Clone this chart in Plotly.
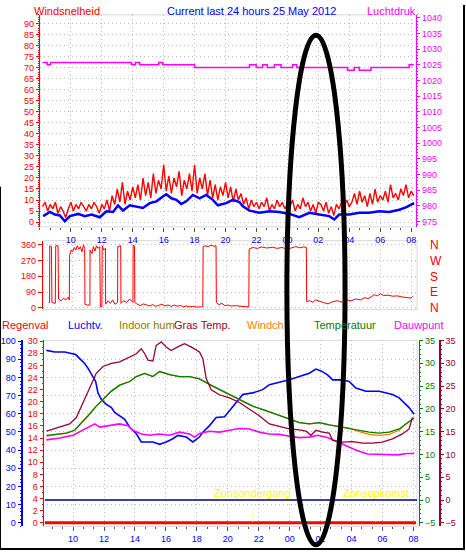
import plotly.graph_objects as go

W, H = 466, 555
FONT = "Liberation Sans, Arial, sans-serif"

# ---------------- data ----------------
# time axis in hours from midnight of the first day (24 = 00 next day)
hour_ticks = [10, 12, 14, 16, 18, 20, 22, 24, 26, 28, 30, 32]
hour_labels = ["10", "12", "14", "16", "18", "20", "22", "00", "02", "04", "06", "08"]

# wind gust (10-minute samples starting 08:10)
gust_start = 8 + 10 / 60
gust_step = 10 / 60
gust_vals = [
    7, 9, 5, 8, 6, 9, 4, 7, 5, 2, 6, 9,
    5, 8, 6, 9, 7, 5, 8, 6, 9, 7, 4, 8,
    6, 10, 5, 12, 8, 15, 9, 18, 8, 14, 10, 16,
    11, 17, 10, 20, 12, 18, 11, 22, 13, 19, 15, 26,
    14, 21, 13, 20, 16, 23, 12, 19, 15, 22, 14, 26,
    13, 20, 15, 22, 12, 19, 11, 17, 10, 16, 12, 18,
    11, 16, 9, 15, 10, 13, 8, 11, 6, 10, 7, 9,
    6, 9, 7, 11, 5, 8, 6, 10, 7, 9, 6, 8,
    7, 10, 5, 8, 6, 11, 7, 9, 5, 8, 4, 9,
    8, 5, 9, 4, 7, 3, 8, 6, 9, 7, 10, 7,
    9, 13, 8, 14, 9, 12, 7, 13, 8, 15, 9, 12,
    10, 14, 9, 17, 11, 13, 10, 15, 12, 17, 11, 14,
    12,
]

# average wind speed
avg_hours = [8.21, 8.65, 8.97, 9.29, 9.61, 9.94, 10.47, 10.9, 11.34, 11.87,
             12.3, 12.73, 13.05, 13.37, 13.81, 14.24, 14.66, 15.1, 15.53, 15.95,
             16.17, 16.5, 16.82, 17.14, 17.46, 17.89, 18.32, 18.75, 19.18, 19.5,
             20.04, 20.47, 20.9, 21.12, 21.55, 22.19, 22.84, 23.48, 24.13, 24.77,
             25.42, 26.06, 26.71, 27.03, 27.35, 28.0, 28.65, 29.29, 29.94, 30.58,
             31.23, 31.66, 32.19]
avg_vals = [2.7, 4.6, 3.4, 3.0, 0.4, 2.7, 3.7, 2.7, 3.4, 2.2,
            4.9, 4.6, 7.6, 5.2, 7.6, 7.1, 6.4, 8.6, 9.4, 11.6,
            12.6, 10.8, 10.1, 8.2, 9.4, 12.3, 10.8, 12.3, 10.1, 7.6,
            8.6, 10.1, 9.1, 7.1, 5.2, 4.2, 4.9, 4.6, 3.7, 2.2,
            4.2, 3.4, 2.7, 1.2, 3.4, 3.4, 4.2, 4.2, 4.9, 4.6,
            5.6, 6.7, 8.6]

# air pressure (step changes)
pres_hours = [8.17, 8.47, 8.69, 13.92, 14.17, 14.45, 15.68, 15.94, 18.0, 21.55,
              21.98, 22.4, 22.7, 23.16, 23.59, 24.34, 24.6, 27.89, 28.32, 28.65,
              29.4, 31.87, 32.17]
pres_vals = [1025.8, 1025.1, 1025.8, 1025.1, 1025.8, 1025.1, 1025.8, 1025.1, 1024.2, 1025.1,
             1024.2, 1025.1, 1024.2, 1025.1, 1024.2, 1025.1, 1024.2, 1023.3, 1024.2, 1023.3,
             1024.2, 1025.1, 1025.1]

# wind direction (degrees)
dir_hours = [8.44, 8.50, 8.51, 8.62, 8.65, 8.87, 8.90, 9.05, 9.08, 9.25,
             9.40, 9.55, 9.70, 9.78, 9.80, 9.90, 10.00, 10.10, 10.20, 10.30,
             10.40, 10.50, 10.60, 10.70, 10.78, 10.80, 10.95, 11.12, 11.13, 11.25,
             11.35, 11.45, 11.55, 11.65, 11.76, 11.77, 11.80, 11.90, 11.92, 12.02,
             12.13, 12.14, 12.30, 12.45, 12.60, 12.75, 12.92, 12.93, 13.12, 13.14,
             13.30, 13.50, 13.70, 13.92, 13.93, 14.02, 14.04, 14.2, 14.4, 14.6,
             14.8, 15.0, 15.2, 15.4, 15.6, 15.8, 16.0, 16.2, 16.4, 16.6,
             16.8, 17.0, 17.2, 17.4, 17.6, 17.8, 18.0, 18.2, 18.46, 18.48,
             18.6, 18.8, 19.0, 19.2, 19.32, 19.34, 19.5, 19.7, 19.9, 20.1,
             20.3, 20.6, 20.9, 21.2, 21.45, 21.47, 21.7, 22.0, 22.3, 22.6,
             23.0, 23.3, 23.6, 24.0, 24.2, 24.5, 24.8, 25.0, 25.19, 25.21,
             25.4, 25.6, 25.8, 26.0, 26.3, 26.6, 26.9, 27.2, 27.5, 27.8,
             28.1, 28.4, 28.7, 29.0, 29.2, 29.4, 29.6, 29.8, 30.0, 30.2,
             30.5, 30.8, 31.1, 31.4, 31.7, 32.0, 32.1]
dir_deg = [30, 30, 355, 350, 30, 25, 355, 355, 50, 40,
           55, 45, 60, 45, 300, 330, 320, 345, 330, 355,
           335, 350, 320, 360, 340, 20, 15, 15, 330, 310,
           350, 325, 355, 340, 350, 180, 5, 5, 355, 330,
           340, 20, 40, 25, 45, 20, 30, 350, 355, 25,
           40, 30, 50, 30, 360, 350, 30, 20, 12, 22,
           15, 10, 18, 8, 14, 20, 10, 16, 8, 15,
           9, 13, 6, 10, 5, 8, 4, 6, 5, 350,
           355, 350, 358, 352, 355, 30, 18, 25, 12, 15,
           10, 12, 8, 6, 5, 335, 345, 340, 348, 342,
           346, 340, 345, 335, 342, 350, 343, 348, 346, 35,
           40, 32, 45, 38, 30, 22, 35, 40, 32, 45,
           40, 50, 45, 58, 52, 62, 75, 68, 80, 70,
           72, 66, 68, 62, 60, 55, 65]
dir_ticks = [0, 90, 180, 270, 360]
compass = ["N", "E", "S", "W", "N"]

# rain
rain_hours = [8.17, 32.17]
rain_vals = [0, 0]

# 0 degree reference line
zero_hours = [8.17, 32.24]
zero_vals = [0, 0]

# relative humidity
hum_hours = [8.28, 8.82, 9.46, 10.17, 10.43, 10.75, 10.97, 11.19, 11.46, 11.61,
             11.83, 12.15, 12.48, 12.69, 13.01, 13.34, 13.66, 14.09, 14.41, 14.74,
             15.16, 15.59, 16.02, 16.45, 16.77, 17.32, 17.74, 18.17, 18.39, 18.82,
             19.25, 19.79, 20.11, 20.54, 20.97, 21.61, 22.26, 22.69, 23.33, 23.98,
             24.63, 25.27, 25.7, 26.03, 26.45, 26.78, 27.42, 27.85, 28.28, 28.93,
             29.79, 30.22, 30.65, 31.08, 31.4, 31.72, 32.05]
hum_vals = [94.9, 94.0, 94.0, 92.6, 90.4, 87.7, 85.0, 81.4, 77.8, 71.5,
            67.9, 65.2, 63.4, 60.7, 58.9, 57.0, 52.6, 49.0, 44.5, 44.5,
            44.5, 43.2, 44.5, 46.3, 48.1, 47.2, 44.5, 47.2, 49.9, 53.5,
            58.0, 58.4, 61.6, 66.1, 70.6, 71.5, 73.3, 76.0, 77.3, 78.7,
            80.5, 82.3, 84.6, 83.6, 81.4, 78.7, 78.7, 77.8, 74.2, 72.4,
            72.4, 71.5, 70.6, 68.8, 66.1, 63.4, 59.8]

# temperature and wind chill
temp_hours = [8.28, 9.57, 10.1, 10.5, 10.97, 11.5, 11.93, 12.48, 13.01, 13.66,
              14.09, 14.63, 15.16, 15.59, 16.24, 16.88, 17.53, 18.17, 19.03, 19.9,
              20.76, 21.61, 22.47, 23.33, 23.98, 24.63, 25.27, 25.92, 26.56, 27.2,
              27.85, 28.5, 29.14, 29.79, 30.43, 31.08, 31.5, 32.05]
temp_vals = [14.2, 14.7, 15.3, 16.7, 18.5, 20.6, 22.1, 23.9, 25.2, 26.0,
             27.1, 27.8, 27.1, 28.2, 27.5, 27.1, 27.1, 26.6, 25.0, 23.5,
             22.1, 20.6, 19.6, 18.5, 17.8, 17.0, 16.7, 17.0, 16.5, 16.1,
             15.8, 15.4, 14.9, 14.7, 14.9, 15.6, 16.7, 18.0]
chill_vals = [14.0, 14.7, 15.3, 16.7, 18.5, 20.6, 22.1, 23.9, 25.2, 26.0,
              27.1, 27.8, 27.1, 28.2, 27.5, 27.1, 27.1, 26.6, 25.0, 23.5,
              22.1, 20.6, 19.6, 18.5, 17.8, 17.0, 16.7, 17.0, 16.5, 16.1,
              15.8, 15.0, 14.4, 14.2, 14.4, 15.3, 16.7, 18.0]

# grass temperature
gras_hours = [8.28, 9.14, 9.78, 10.21, 10.5, 10.86, 11.19, 11.5, 11.93, 12.48,
              13.01, 13.44, 14.09, 14.41, 14.63, 14.84, 15.16, 15.37, 15.7, 16.02,
              16.34, 16.77, 17.2, 17.63, 18.17, 18.39, 18.6, 18.93, 19.46, 20.11,
              20.76, 21.4, 22.04, 22.69, 23.33, 23.98, 24.63, 25.06, 25.38, 25.7,
              26.13, 26.56, 26.78, 27.42, 28.07, 28.71, 29.36, 30.0, 30.65, 31.29,
              31.72, 31.94]
gras_vals = [15.1, 16.0, 16.7, 18.1, 20.3, 23.1, 25.7, 27.8, 29.3, 30.0,
             30.3, 31.0, 32.1, 33.2, 32.1, 30.7, 30.5, 33.9, 34.7, 33.6,
             32.8, 33.6, 34.3, 33.6, 32.5, 31.0, 26.7, 24.2, 23.1, 22.4,
             21.4, 19.9, 18.5, 16.7, 16.2, 15.6, 15.4, 15.1, 14.2, 15.3,
             14.9, 14.7, 13.1, 12.7, 12.8, 12.5, 12.5, 12.7, 13.4, 14.5,
             15.6, 18.1]

# dew point
dew_hours = [8.28, 9.14, 10.0, 10.64, 11.4, 11.72, 12.37, 13.01, 13.55, 13.87,
             14.41, 14.95, 15.59, 16.24, 16.88, 17.53, 17.85, 18.17, 18.82, 19.46,
             20.11, 20.76, 21.4, 22.04, 22.69, 23.33, 23.98, 24.63, 25.27, 25.81,
             26.45, 27.1, 27.74, 28.39, 29.03, 29.68, 30.32, 30.97, 31.61, 32.05]
dew_vals = [13.2, 13.6, 14.2, 15.3, 16.7, 16.0, 16.3, 16.7, 16.3, 15.3,
            14.5, 14.2, 14.5, 14.2, 14.9, 14.5, 13.8, 14.6, 15.1, 14.9,
            15.3, 15.7, 15.6, 14.9, 14.5, 14.4, 14.0, 13.7, 13.8, 14.2,
            13.7, 12.7, 11.8, 10.8, 10.1, 10.0, 9.9, 9.9, 10.2, 10.2]

# sunset / sunrise
sun_labels = ["Zonsondergang", "Zonsopkomst"]
sun_hours = [21.61, 29.57]
sun_mark = [-4.9, -1.8]
sun_text_level = 1.5

legend_items = [
    ("Regenval", "#FF0000"), ("Luchtv.", "#0000FF"), ("Indoor hum", "#808000"),
    ("Gras Temp.", "#990033"), ("Windch", "#FF8000"), ("Temperatuur", "#008000"),
    ("Dauwpunt", "#FF00FF"),
]

# ---------------- helpers ----------------
RED, BLUE, MAG, GREEN, MAROON = "#FF0000", "#0000FF", "#FF00FF", "#008000", "#990033"
GRID = dict(showgrid=True, gridcolor="#BBBBBB", griddash="1px,3px", gridwidth=1)


def px(x):
    return x / W


def py(y):
    return 1 - y / H


def yax(color, rng, dtick, tick0=0, minor=1, **kw):
    d = dict(
        range=rng, tickmode="linear", tick0=tick0, dtick=dtick,
        ticks="outside", ticklen=3, tickcolor=color, tickwidth=1,
        tickfont=dict(color=color, size=9, family=FONT),
        showline=True, linecolor=color, linewidth=1,
        zeroline=False, showgrid=False, fixedrange=True,
        minor=dict(dtick=minor, ticks="outside", ticklen=1, tickcolor=color),
    )
    d.update(kw)
    return d


def xax(domain, anchor, rng, labels=True):
    d = dict(
        domain=domain, anchor=anchor, range=rng,
        tickmode="array", tickvals=hour_ticks, ticktext=hour_labels,
        tickfont=dict(color=BLUE, size=9, family=FONT),
        zeroline=False, showline=False, fixedrange=True, **GRID,
    )
    if labels:
        d.update(ticks="outside", ticklen=4, tickcolor="#505050",
                 minor=dict(tickmode="linear", tick0=10, dtick=2 / 3,
                            ticks="outside", ticklen=2, tickcolor="#505050"))
    else:
        d.update(showticklabels=False, ticks="")
    return d


fig = go.Figure()

# ---------------- top: wind speed / pressure ----------------
gust_hours = [gust_start + i * gust_step for i in range(len(gust_vals))]
fig.add_trace(go.Scatter(x=gust_hours, y=gust_vals, xaxis="x", yaxis="y",
                         mode="lines", line=dict(color=RED, width=1.4)))
fig.add_trace(go.Scatter(x=avg_hours, y=avg_vals, xaxis="x", yaxis="y",
                         mode="lines", line=dict(color=BLUE, width=2.5)))
fig.add_trace(go.Scatter(x=pres_hours, y=pres_vals, xaxis="x", yaxis="y2",
                         mode="lines", line=dict(color=MAG, width=1.5, shape="hv")))

# ---------------- middle: wind direction ----------------
fig.add_trace(go.Scatter(x=dir_hours, y=dir_deg, xaxis="x2", yaxis="y3",
                         mode="lines", line=dict(color=RED, width=1)))
fig.add_trace(go.Scatter(x=dir_hours[:1], y=dir_deg[:1], xaxis="x2", yaxis="y8",
                         mode="markers", marker=dict(opacity=0)))

# ---------------- bottom: temperatures / humidity ----------------
fig.add_trace(go.Scatter(x=rain_hours, y=rain_vals, xaxis="x3", yaxis="y5",
                         mode="lines", line=dict(color=RED, width=3)))
fig.add_trace(go.Scatter(x=zero_hours, y=zero_vals, xaxis="x3", yaxis="y6",
                         mode="lines", line=dict(color="#000080", width=1.5)))
for h in sun_hours:
    fig.add_trace(go.Scatter(x=[h, h], y=sun_mark, xaxis="x3", yaxis="y6",
                             mode="lines", line=dict(color="#FFFF00", width=1, dash="1px,2px")))
fig.add_trace(go.Scatter(x=hum_hours, y=hum_vals, xaxis="x3", yaxis="y4",
                         mode="lines", line=dict(color=BLUE, width=1.6)))
fig.add_trace(go.Scatter(x=temp_hours, y=chill_vals, xaxis="x3", yaxis="y6",
                         mode="lines", line=dict(color="#FF8000", width=1.3)))
fig.add_trace(go.Scatter(x=temp_hours, y=temp_vals, xaxis="x3", yaxis="y6",
                         mode="lines", line=dict(color=GREEN, width=1.3)))
fig.add_trace(go.Scatter(x=gras_hours, y=gras_vals, xaxis="x3", yaxis="y7",
                         mode="lines", line=dict(color=MAROON, width=1.3)))
fig.add_trace(go.Scatter(x=dew_hours, y=dew_vals, xaxis="x3", yaxis="y6",
                         mode="lines", line=dict(color=MAG, width=1.6)))

for lab, h in zip(sun_labels, sun_hours):
    fig.add_annotation(x=h, y=sun_text_level, xref="x3", yref="y6", text=lab,
                       showarrow=False, font=dict(color="#FFFF00", size=11, family=FONT))

# ---------------- texts ----------------
def label(text, x, y, color, anchor="left", size=11):
    fig.add_annotation(x=px(x), y=py(y), xref="paper", yref="paper", text=text,
                       showarrow=False, xanchor=anchor, yanchor="middle",
                       font=dict(color=color, size=size, family=FONT))


label("Windsnelheid", 32, 6, RED)
label("Current last 24 hours 25 May 2012", 252, 6, BLUE, anchor="center")
label("Luchtdruk", 419, 6, MAG, anchor="right")
legend_x = [0, 66, 117, 172, 246, 313, 393]
for (txt, col), lx in zip(legend_items, legend_x):
    label(txt, lx, 326, col)

# ---------------- frames, ellipse, border ----------------
for xr, yr in [("x", "y"), ("x2", "y3"), ("x3", "y4")]:
    fig.add_shape(type="rect", xref=f"{xr} domain", yref=f"{yr} domain",
                  x0=0, x1=1, y0=0, y1=1, line=dict(color="#D8D8D8", width=1), layer="below")
fig.add_shape(type="circle", xref="paper", yref="paper",
              x0=px(287.5), x1=px(345.8), y0=py(549.7), y1=py(30.8),
              line=dict(color="black", width=5))
fig.add_shape(type="line", xref="paper", yref="paper", x0=px(465), x1=px(465),
              y0=0, y1=1, line=dict(color="black", width=2))
fig.add_shape(type="line", xref="paper", yref="paper", x0=0, x1=1,
              y0=py(554), y1=py(554), line=dict(color="black", width=2))
fig.add_shape(type="line", xref="paper", yref="paper", x0=px(0.5), x1=px(0.5),
              y0=0, y1=py(185), line=dict(color="black", width=1))

# ---------------- layout ----------------
fig.update_layout(
    width=W, height=H, autosize=False,
    margin=dict(l=0, r=0, t=0, b=0, pad=0),
    paper_bgcolor="white", plot_bgcolor="white",
    showlegend=False, hovermode=False,
    xaxis=xax([px(40), px(417)], "y", [8.0, 32.32]),
    yaxis=yax(RED, [-2.2, 94], 5, domain=[py(226), py(10)], anchor="x", **GRID),
    yaxis2=yax(MAG, [973.3, 1041], 5, tick0=975, overlaying="y", side="right", anchor="x"),
    xaxis2=xax([px(43), px(418)], "y3", [8.065, 32.39], labels=False),
    yaxis3=dict(
        domain=[py(310), py(240)], anchor="x2", range=[-9.6, 384],
        tickmode="array", tickvals=dir_ticks,
        ticks="outside", ticklen=4, tickcolor=RED,
        tickfont=dict(color=RED, size=9, family=FONT),
        showline=True, linecolor=RED, zeroline=False, fixedrange=True, **GRID,
    ),
    yaxis8=dict(
        overlaying="y3", anchor="free", position=px(430), side="right",
        range=[-9.6, 384], tickmode="array", tickvals=dir_ticks, ticktext=compass,
        tickfont=dict(color=RED, size=12, family=FONT), ticks="",
        showline=False, showgrid=False, zeroline=False, fixedrange=True,
    ),
    xaxis3=xax([px(43), px(418)], "y4", [8.05, 32.24]),
    yaxis4=yax(BLUE, [-2.0, 100.43], 10, minor=2, domain=[py(531), py(341.5)],
               anchor="free", position=px(21.7), side="left", linewidth=2, **GRID),
    yaxis5=yax(RED, [-0.6, 30.13], 2, overlaying="y4", anchor="free",
               position=px(42.7), side="left"),
    yaxis6=yax(GREEN, [-5.8, 35.04], 5, tick0=-5, overlaying="y4", anchor="free",
               position=px(420), side="right"),
    yaxis7=yax(MAROON, [-5.8, 35.04], 5, tick0=-5, overlaying="y4", anchor="free",
               position=px(440.7), side="right", linewidth=2),
)

fig.write_html(
    "out.html",
    config={"displayModeBar": False},
    post_script="document.body.style.margin='0';document.body.style.overflow='hidden';",
)
